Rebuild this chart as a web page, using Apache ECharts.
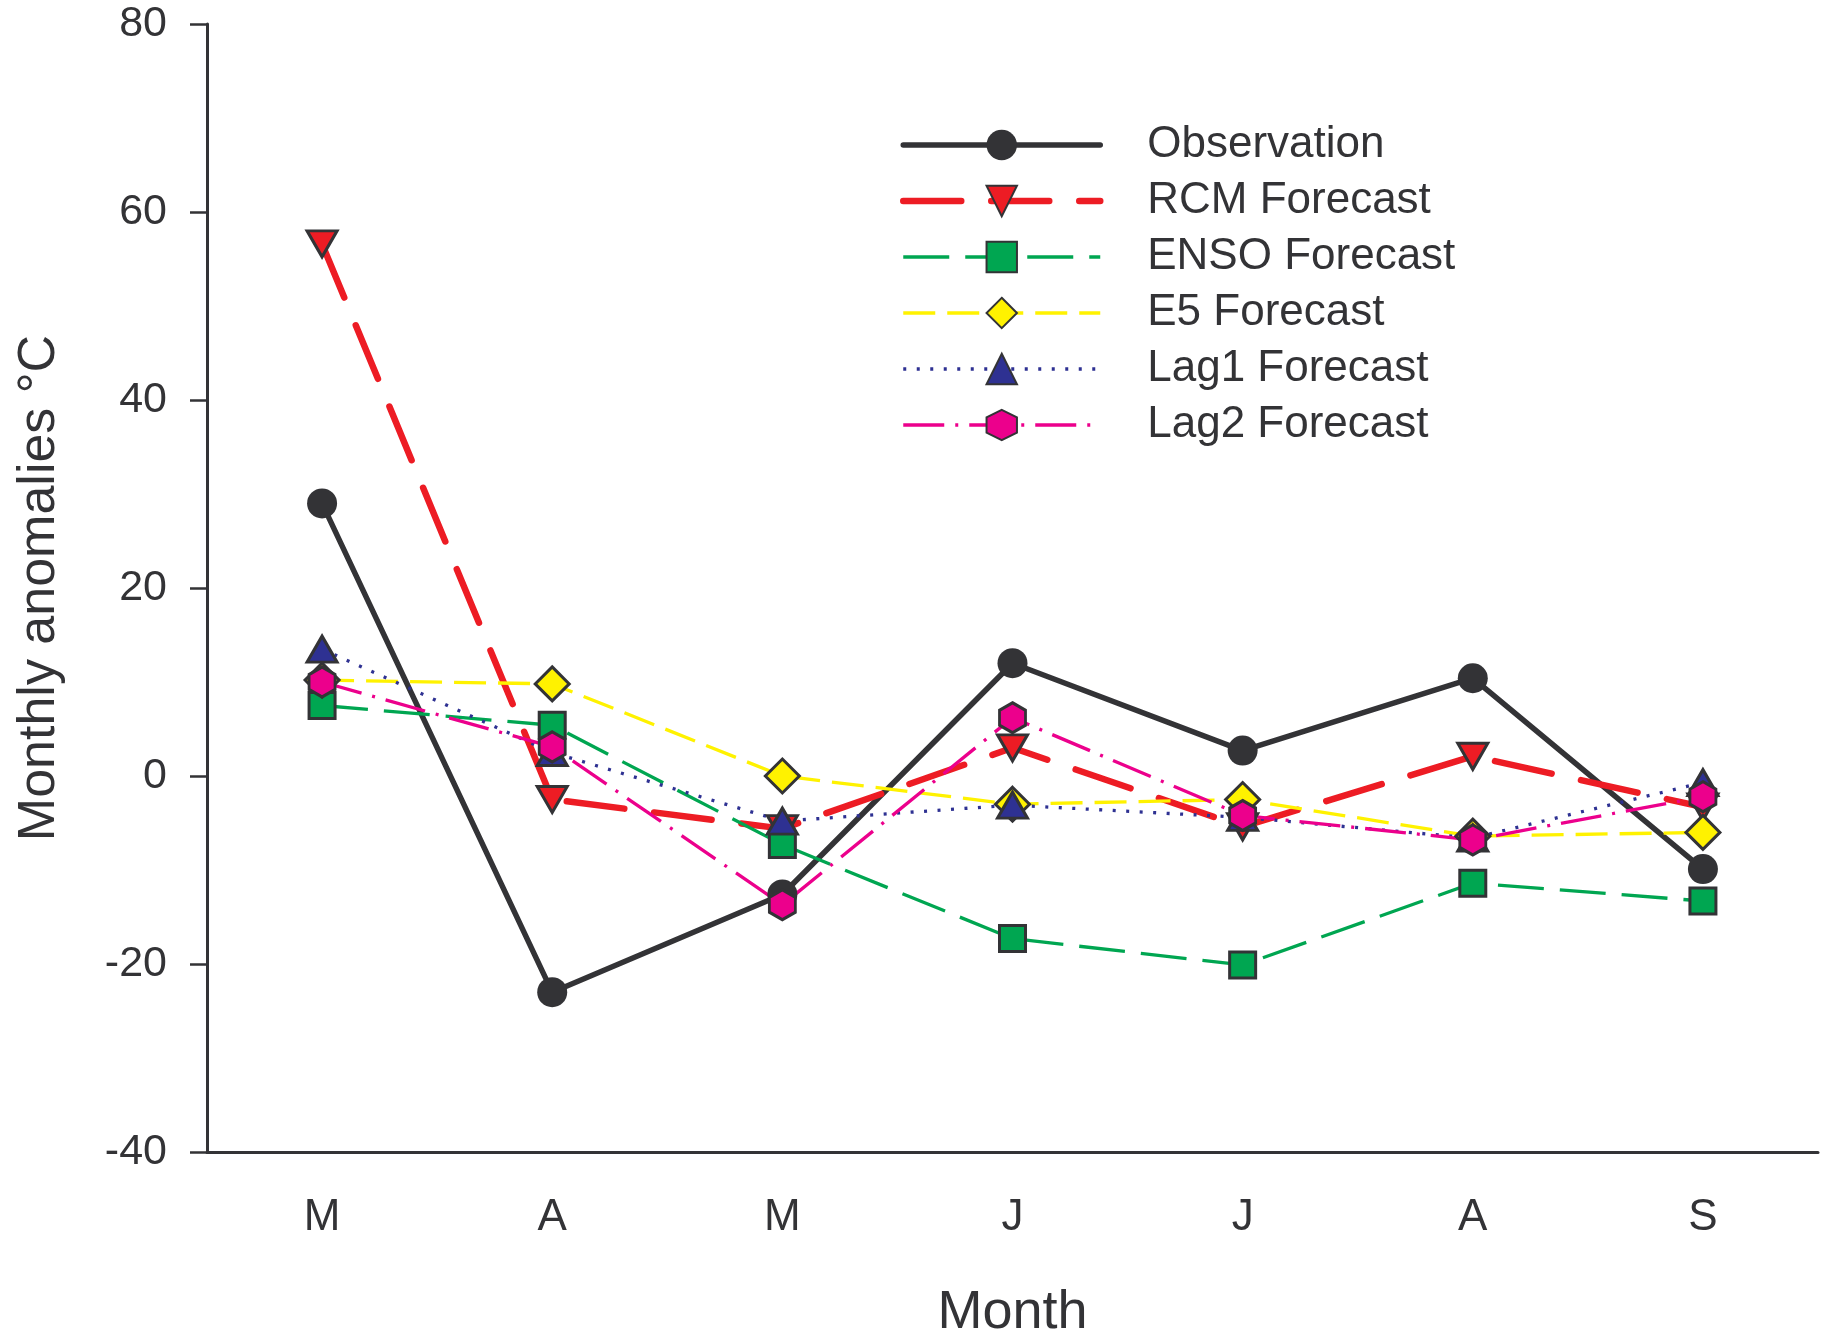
<!DOCTYPE html>
<html>
<head>
<meta charset="utf-8">
<title>Monthly anomalies</title>
<script src="https://cdn.jsdelivr.net/npm/echarts@6/dist/echarts.min.js"></script>
<style>
  html, body { margin: 0; padding: 0; background: #fff; }
  #chart { width: 1821px; height: 1335px; }
</style>
</head>
<body>
<div id="chart"></div>
<script>
// data
let months = ['M', 'A', 'M', 'J', 'J', 'A', 'S']
let observation = [29.0, -23.0, -12.6, 12.0, 2.7, 10.4, -9.9]
let rcmForecast = [56.6, -2.5, -5.6, 3.0, -5.4, 2.1, -3.3]
let ensoForecast = [7.5, 5.4, -7.3, -17.3, -20.1, -11.4, -13.3]
let e5Forecast = [10.2, 9.8, 0.0, -3.0, -2.5, -6.4, -6.0]
let lag1Forecast = [13.5, 2.5, -4.8, -3.1, -4.4, -6.6, -0.7]
let lag2Forecast = [10.0, 3.1, -13.7, 6.2, -4.2, -6.8, -2.2]
let yTicks = { min: -40, max: 80, step: 20 }

let font = "'Liberation Sans', Arial, Helvetica, sans-serif"
let ink = '#333336'
let hexagon = 'path://M0,-1L0.866,-0.5L0.866,0.5L0,1L-0.866,0.5L-0.866,-0.5Z'

function line(name, data, opt) {
  return {
    name: name,
    type: 'line',
    data: data,
    symbol: opt.symbol,
    symbolSize: opt.size,
    symbolRotate: opt.rotate || 0,
    showAllSymbol: true,
    lineStyle: {
      color: opt.color,
      width: opt.width,
      type: opt.dash,
      cap: opt.cap || 'butt'
    },
    itemStyle: {
      color: opt.fill,
      borderColor: ink,
      borderWidth: opt.border
    },
    emphasis: { disabled: true },
    animation: false
  }
}

let chart = echarts.init(document.getElementById('chart'))
chart.setOption({
  backgroundColor: '#fff',
  grid: { left: 207, right: 3, top: 24, bottom: 183, containLabel: false, outerBoundsMode: 'none' },
  legend: {
    left: 900,
    top: 123,
    orient: 'vertical',
    padding: 0,
    itemWidth: 197,
    itemHeight: 38,
    itemGap: 12,
    selectedMode: false,
    lineStyle: { width: 'inherit' },
    textStyle: {
      fontFamily: font,
      fontSize: 44,
      color: ink,
      padding: [0, 0, 0, 42]
    },
    data: ['Observation', 'RCM Forecast', 'ENSO Forecast', 'E5 Forecast', 'Lag1 Forecast', 'Lag2 Forecast']
  },
  xAxis: {
    type: 'category',
    data: months,
    boundaryGap: true,
    name: 'Month',
    nameLocation: 'middle',
    nameGap: 134,
    nameTextStyle: { fontFamily: font, fontSize: 54, color: ink },
    axisLine: { onZero: false, lineStyle: { color: ink, width: 3 } },
    axisTick: { alignWithLabel: true, length: 16, lineStyle: { color: ink, width: 2.5 } },
    axisLabel: { margin: 44, fontFamily: font, fontSize: 44, color: ink },
    splitLine: { show: false }
  },
  yAxis: {
    type: 'value',
    min: yTicks.min,
    max: yTicks.max,
    interval: yTicks.step,
    name: 'Monthly anomalies \u00b0C',
    nameLocation: 'middle',
    nameGap: 141,
    nameTextStyle: { fontFamily: font, fontSize: 52, color: ink },
    axisLine: { show: true, lineStyle: { color: ink, width: 3 } },
    axisTick: { show: true, length: 17, lineStyle: { color: ink, width: 2.5 } },
    axisLabel: { margin: 40, fontFamily: font, fontSize: 43, color: ink },
    splitLine: { show: false }
  },
  series: [
    line('Observation', observation, { symbol: 'circle', size: 30, color: ink, width: 5.5, dash: 'solid', fill: ink, border: 0, cap: 'round' }),
    line('RCM Forecast', rcmForecast, { symbol: 'triangle', size: [30, 26], rotate: 180, color: '#ed1c24', width: 6.5, dash: [58, 30], fill: '#ed1c24', border: 3, cap: 'round' }),
    line('ENSO Forecast', ensoForecast, { symbol: 'rect', size: 26, color: '#00a651', width: 3.3, dash: [46, 16], fill: '#00a651', border: 3 }),
    line('E5 Forecast', e5Forecast, { symbol: 'diamond', size: 34, color: '#fff200', width: 3.3, dash: [32, 12], fill: '#fff200', border: 3 }),
    line('Lag1 Forecast', lag1Forecast, { symbol: 'triangle', size: [30, 26], color: '#2e3192', width: 3.3, dash: [3, 10.5], fill: '#2e3192', border: 3 }),
    line('Lag2 Forecast', lag2Forecast, { symbol: hexagon, size: [26, 30], color: '#ec008c', width: 3.3, dash: [41, 11, 3, 11], fill: '#ec008c', border: 3 })
  ]
})
</script>
</body>
</html>
